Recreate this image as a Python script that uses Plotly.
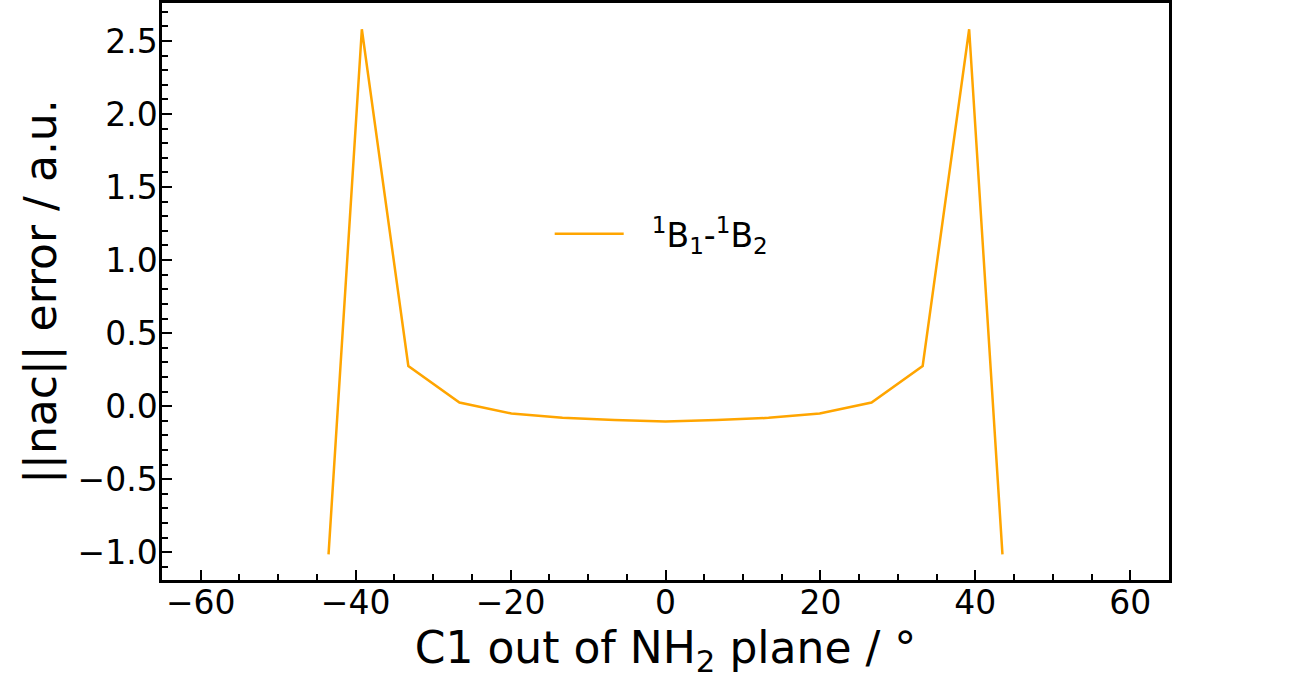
import plotly.graph_objects as go

# Data
angle = [-43.5, -39.2, -33.2, -26.6, -19.9, -13.3, -6.6, 0.0,
         6.6, 13.3, 19.9, 26.6, 33.2, 39.2, 43.5]
nac_error = [-1.015, 2.58, 0.275, 0.025, -0.05, -0.08, -0.095, -0.105,
             -0.095, -0.08, -0.05, 0.025, 0.275, 2.58, -1.015]
series_name = "\u2002\u2009<sup>1</sup>B<sub>1</sub>-<sup>1</sup>B<sub>2</sub>"
x_ticks = [-60, -40, -20, 0, 20, 40, 60]
y_ticks = [-1.0, -0.5, 0.0, 0.5, 1.0, 1.5, 2.0, 2.5]

FONT = "DejaVu Sans"

fig = go.Figure()
fig.add_trace(go.Scatter(
    x=angle, y=nac_error, mode="lines", name=series_name,
    line=dict(color="#FFA500", width=2.5),
))

axis_common = dict(
    showgrid=False, zeroline=False, showline=True, linecolor="black",
    linewidth=2.5, mirror=True, ticks="inside", tickcolor="black",
    tickwidth=2, ticklen=10, automargin=False,
    tickfont=dict(family=FONT, size=33, color="black"),
)

fig.update_xaxes(
    **axis_common, range=[-65, 65], tickvals=x_ticks,
    ticktext=[f"{v:g}".replace("-", "\u2212") for v in x_ticks],
    ticklabelstandoff=-8,
    minor=dict(dtick=5, tick0=0, ticks="inside", ticklen=6, tickwidth=2, tickcolor="black"),
    title=dict(text="C1 out of NH<sub>2</sub> plane / °",
               font=dict(family=FONT, size=44, color="black"), standoff=26),
)
fig.update_yaxes(
    **axis_common, range=[-1.19, 2.76], tickvals=y_ticks,
    ticktext=[f"{v:.1f}".replace("-", "\u2212") for v in y_ticks],
    ticklabelstandoff=-5,
    minor=dict(dtick=0.1, tick0=0, ticks="inside", ticklen=6, tickwidth=2, tickcolor="black"),
    title=dict(text="||nac|| error / a.u.",
               font=dict(family=FONT, size=44, color="black"), standoff=8),
)

fig.update_layout(
    width=1299, height=679,
    margin=dict(l=162, r=130, t=3, b=99),
    plot_bgcolor="white", paper_bgcolor="white",
    font=dict(family=FONT, color="black"),
    showlegend=True,
    legend=dict(x=0.385, y=0.6, xanchor="left", yanchor="middle",
                bgcolor="rgba(0,0,0,0)", borderwidth=0,
                font=dict(family=FONT, size=33, color="black"),
                itemwidth=69),
)

fig.write_html("out.html", config={"displayModeBar": False},
               post_script="document.body.style.margin='0';")
